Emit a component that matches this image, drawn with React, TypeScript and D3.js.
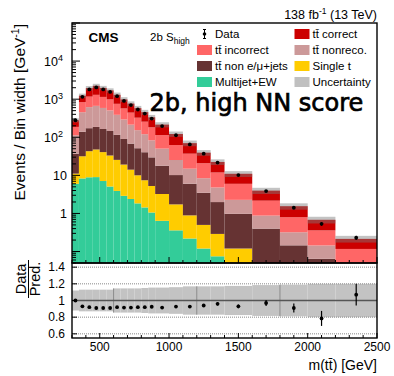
import React from 'react';
import * as d3 from 'd3';

// ---------------- data ----------------
const binEdges = [300, 350, 400, 450, 500, 550, 600, 650, 700, 750, 800, 850, 900, 1000, 1100, 1200, 1300, 1400, 1600, 1800, 2000, 2200, 2500];
const multijetEW = [6.0, 8.3, 8.9, 9.0, 7.1, 5.1, 3.9, 2.9, 2.4, 1.84, 1.44, 1.06, 0.64, 0.36, 0.22, 0.12, 0.075, 0.026, 0.009, 0.0033, 0.0013, 0.0004];
const singleTop = [5.1, 23.4, 34.2, 38.8, 33.7, 28.1, 21.6, 16.3, 11.7, 8.2, 6.0, 4.2, 2.6, 1.37, 0.67, 0.38, 0.215, 0.094, 0.041, 0.0122, 0.0051, 0.0015];
const ttNonLJ = [26, 108, 130, 139, 124, 113, 90, 71, 54, 41.5, 33, 24.4, 14.7, 8.45, 5.14, 2.99, 1.7, 0.855, 0.35, 0.13, 0.058, 0.017];
const ttNonReco = [76, 315, 445, 481, 424, 361, 273, 203, 146, 102, 80, 53.7, 32.4, 15.1, 8.94, 4.92, 2.81, 1.3, 0.477, 0.175, 0.08, 0.0255];
const ttIncorrect = [74, 379, 550, 632, 558, 480, 367, 278, 230, 173, 136, 99, 63.4, 37.3, 22.1, 12.4, 7.1, 3.72, 1.29, 0.474, 0.214, 0.0725];
const ttCorrect = [93, 403, 789, 942, 831, 715, 548, 413, 321, 255, 200, 152, 101, 59.4, 33, 18.6, 10.6, 5.0, 1.81, 0.755, 0.323, 0.098];
const dataValues = [280, 1150, 1800, 2040, 1800, 1550, 1200, 900, 700, 535, 420, 310, 197, 113, 65, 37, 21.6, 10.2, 3.86, 1.41, 0.535, 0.23];
const ratioValues = [1.0, 0.93, 0.92, 0.91, 0.91, 0.91, 0.92, 0.915, 0.915, 0.92, 0.92, 0.925, 0.915, 0.927, 0.927, 0.94, 0.96, 0.93, 0.97, 0.91, 0.785, 1.07];
const ratioErrors = [0.006, 0.004, 0.003, 0.003, 0.003, 0.003, 0.004, 0.004, 0.005, 0.006, 0.006, 0.007, 0.007, 0.009, 0.012, 0.016, 0.02, 0.022, 0.035, 0.055, 0.09, 0.13];
const relUncertainty = [0.12, 0.13, 0.13, 0.13, 0.13, 0.13, 0.145, 0.145, 0.145, 0.145, 0.15, 0.155, 0.155, 0.16, 0.17, 0.17, 0.17, 0.175, 0.185, 0.19, 0.2, 0.2];
const bandLines = [600, 1200, 1800];
const xTickLabels = [500, 1000, 1500, 2000, 2500];
const ratioTicks = [0.6, 0.8, 1.0, 1.2, 1.4];
const ratioTickLabels = ['0.6', '0.8', '1', '1.2', '1.4'];

const layers = [
  { name: 'Multijet+EW', values: multijetEW, color: '#33cc99' },
  { name: 'Single t', values: singleTop, color: '#ffcc00' },
  { name: 'tt\u0304 non e/\u03bc+jets', values: ttNonLJ, color: '#663333' },
  { name: 'tt\u0304 nonreco.', values: ttNonReco, color: '#cc9999' },
  { name: 'tt\u0304 incorrect', values: ttIncorrect, color: '#ff6666' },
  { name: 'tt\u0304 correct', values: ttCorrect, color: '#cc0000' },
];

const FONT = 'Liberation Sans, Arial, Helvetica, sans-serif';

export default function App() {
  const W = 394, H = 376;
  const L = 72, R = 377, T = 23, MB = 263, RB = 338;
  const x = d3.scaleLinear().domain([300, 2500]).range([L, R]);
  const y = d3.scaleLog().domain([0.05, 1e5]).range([MB, T]);
  const yr = d3.scaleLinear().domain([0.55, 1.45]).range([RB, MB]);
  const clampY = (v: number) => (v <= 0 ? MB : Math.min(MB, Math.max(T, y(v))));

  const nBins = binEdges.length - 1;
  const bins = d3.range(nBins);
  const totals = bins.map((i) => d3.sum(layers, (l) => l.values[i]));

  const stackRects: any[] = [];
  bins.forEach((i) => {
    let cum = 0;
    layers.forEach((l, li) => {
      const lo = cum;
      const hi = cum + l.values[i];
      cum = hi;
      const yTop = clampY(hi);
      const yBot = lo > 0 ? clampY(lo) : MB;
      if (yBot - yTop > 0.01) {
        stackRects.push(
          <rect key={`s${i}-${li}`} x={x(binEdges[i])} y={yTop} width={x(binEdges[i + 1]) - x(binEdges[i])} height={yBot - yTop} fill={l.color} />
        );
      }
    });
  });

  const logTicks = y.ticks();
  const xMinor = d3.range(300, 2501, 100);

  const legendRows = [
    [{ type: 'data', label: 'Data' }, { type: 'box', label: 'tt\u0304 correct', color: '#cc0000' }],
    [{ type: 'box', label: 'tt\u0304 incorrect', color: '#ff6666' }, { type: 'box', label: 'tt\u0304 nonreco.', color: '#cc9999' }],
    [{ type: 'box', label: 'tt\u0304 non e/\u03bc+jets', color: '#663333' }, { type: 'box', label: 'Single t', color: '#ffcc00' }],
    [{ type: 'box', label: 'Multijet+EW', color: '#33cc99' }, { type: 'box', label: 'Uncertainty', color: '#c0c0c0' }],
  ];
  const rowY = [34, 50, 66, 82];
  const colBoxX = [197, 294.5];

  const yLabels = [
    { v: 1e4, base: '10', sup: '4' },
    { v: 1e3, base: '10', sup: '3' },
    { v: 1e2, base: '10', sup: '2' },
    { v: 10, base: '10', sup: '' },
    { v: 1, base: '1', sup: '' },
  ];

  return (
    <svg width={W} height={H} style={{ position: 'absolute', left: 0, top: 0, background: '#fff' }} fontFamily={FONT}>
      <defs>
        <clipPath id="mainClip"><rect x={L} y={T} width={R - L} height={MB - T} /></clipPath>
        <clipPath id="ratioClip"><rect x={L} y={MB} width={R - L} height={RB - MB} /></clipPath>
      </defs>
      <rect x={0} y={0} width={W} height={H} fill="#fff" />

      {/* main panel */}
      <g clipPath="url(#mainClip)">
        {stackRects}
        {bins.map((i) => {
          const u = relUncertainty[i];
          const y1 = clampY(totals[i] * (1 + u));
          const y2 = clampY(totals[i] * (1 - u));
          return <rect key={`u${i}`} x={x(binEdges[i])} y={y1} width={x(binEdges[i + 1]) - x(binEdges[i])} height={Math.max(0, y2 - y1)} fill="#7a7a7a" opacity={0.45} />;
        })}
        {bins.map((i) => {
          const cx = x((binEdges[i] + binEdges[i + 1]) / 2);
          const d = dataValues[i];
          const e = (d * ratioErrors[i]) / ratioValues[i];
          return (
            <g key={`d${i}`}>
              <line x1={cx} x2={cx} y1={y(d + e)} y2={y(Math.max(d - e, 1e-3))} stroke="#000" strokeWidth={1} />
              <circle cx={cx} cy={y(d)} r={1.9} fill="#000" />
            </g>
          );
        })}
      </g>

      {/* main axes ticks */}
      {logTicks.map((t, k) => {
        const major = Math.abs(Math.log10(t) - Math.round(Math.log10(t))) < 1e-6;
        const yy = y(t);
        if (yy < T - 0.1 || yy > MB + 0.1) return null;
        return <line key={`lt${k}`} x1={L} x2={L + (major ? 8 : 4)} y1={yy} y2={yy} stroke="#000" strokeWidth={1} />;
      })}
      {xMinor.map((v) => {
        const major = v % 500 === 0;
        return <line key={`mx${v}`} x1={x(v)} x2={x(v)} y1={MB} y2={MB - (major ? 6 : 3)} stroke="#000" strokeWidth={1} />;
      })}
      <rect x={L} y={T} width={R - L} height={MB - T} fill="none" stroke="#000" strokeWidth={1.4} />

      {yLabels.map((lb) => (
        <text key={`yl${lb.v}`} x={lb.sup ? 63 : 67} y={y(lb.v) + 4.5} textAnchor="end" fontSize={12.5}>
          {lb.sup ? (
            <>
              {lb.base}
              <tspan dy={-5} fontSize={9}>{lb.sup}</tspan>
            </>
          ) : (
            lb.base
          )}
        </text>
      ))}

      {/* ratio panel */}
      <g clipPath="url(#ratioClip)">
        {bins.map((i) => {
          const u = relUncertainty[i];
          return <rect key={`ru${i}`} x={x(binEdges[i])} y={yr(1 + u)} width={x(binEdges[i + 1]) - x(binEdges[i])} height={yr(1 - u) - yr(1 + u)} fill="#c3c3c3" />;
        })}
        {bandLines.map((v) => {
          const idx = binEdges.indexOf(v);
          const u = Math.max(relUncertainty[idx - 1], relUncertainty[idx]);
          return <line key={`bl${v}`} x1={x(v)} x2={x(v)} y1={yr(1 + u)} y2={yr(1 - u)} stroke="#8a8a8a" strokeWidth={1} />;
        })}
        {[0.6, 0.8, 1.2, 1.4].map((v) => (
          <line key={`g${v}`} x1={L} x2={R} y1={yr(v)} y2={yr(v)} stroke="#888" strokeWidth={1} strokeDasharray="1,1" />
        ))}
        <line x1={L} x2={R} y1={yr(1)} y2={yr(1)} stroke="#555" strokeWidth={1.3} />
        {bins.map((i) => {
          const cx = x((binEdges[i] + binEdges[i + 1]) / 2);
          const r = ratioValues[i];
          const e = ratioErrors[i];
          return (
            <g key={`r${i}`}>
              <line x1={cx} x2={cx} y1={yr(r + e)} y2={yr(r - e)} stroke="#000" strokeWidth={1.2} />
              <circle cx={cx} cy={yr(r)} r={1.9} fill="#000" />
            </g>
          );
        })}
      </g>
      {ratioTicks.map((v) => (
        <line key={`rt${v}`} x1={L} x2={L + 5} y1={yr(v)} y2={yr(v)} stroke="#000" strokeWidth={1} />
      ))}
      {xMinor.map((v) => {
        const major = v % 500 === 0;
        return <line key={`rx${v}`} x1={x(v)} x2={x(v)} y1={RB} y2={RB - (major ? 5 : 3)} stroke="#000" strokeWidth={1} />;
      })}
      <rect x={L} y={MB} width={R - L} height={RB - MB} fill="none" stroke="#000" strokeWidth={1.4} />
      {ratioTicks.map((v, k) => (
        <text key={`rl${v}`} x={65} y={yr(v) + 4.3} textAnchor="end" fontSize={12}>{ratioTickLabels[k]}</text>
      ))}
      {xTickLabels.map((v) => (
        <text key={`xl${v}`} x={x(v)} y={350.5} textAnchor="middle" fontSize={12}>{v}</text>
      ))}

      {/* axis titles */}
      <text x={377} y={370} textAnchor="end" fontSize={14}>{'m(tt\u0304) [GeV]'}</text>
      <text transform="translate(25,24) rotate(-90)" textAnchor="end" fontSize={15.5}>
        Events / Bin width [GeV<tspan dy={-6} fontSize={10.5}>-1</tspan><tspan dy={6}>]</tspan>
      </text>
      <g transform="translate(27.5,279) rotate(-90)">
        <text x={0} y={-1.5} textAnchor="middle" fontSize={14.5}>Data</text>
        <line x1={-19} x2={19} y1={1} y2={1} stroke="#000" strokeWidth={1} />
        <text x={0} y={12.5} textAnchor="middle" fontSize={14.5}>Pred.</text>
      </g>

      {/* header */}
      <text x={377} y={19} textAnchor="end" fontSize={12.5}>
        138 fb<tspan dy={-5} fontSize={8.5}>-1</tspan><tspan dy={5}> (13 TeV)</tspan>
      </text>
      <text x={88.5} y={41.5} fontSize={13.5} fontWeight="bold">CMS</text>
      <text x={150} y={40.5} fontSize={11.5}>
        2b S<tspan dy={3} fontSize={8.5}>high</tspan>
      </text>

      {/* legend */}
      {legendRows.map((row, ri) =>
        row.map((it: any, ci) => {
          const bx = colBoxX[ci];
          const cy = rowY[ri];
          return (
            <g key={`lg${ri}-${ci}`}>
              {it.type === 'data' ? (
                <g>
                  <line x1={bx + 7.5} x2={bx + 7.5} y1={cy - 4.5} y2={cy + 4.5} stroke="#000" strokeWidth={1} />
                  <line x1={bx + 6} x2={bx + 9} y1={cy - 4.5} y2={cy - 4.5} stroke="#000" strokeWidth={1} />
                  <line x1={bx + 6} x2={bx + 9} y1={cy + 4.5} y2={cy + 4.5} stroke="#000" strokeWidth={1} />
                  <circle cx={bx + 7.5} cy={cy} r={1.8} fill="#000" />
                </g>
              ) : (
                <rect x={bx} y={cy - 5} width={15} height={10} fill={it.color} />
              )}
              <text x={bx + 18} y={cy + 4} fontSize={11.5}>{it.label}</text>
            </g>
          );
        })
      )}

      <text x={149.5} y={110.5} fontSize={24} fontFamily="DejaVu Sans, sans-serif" stroke="#000" strokeWidth={0.7}>2b, high NN score</text>
    </svg>
  );
}
